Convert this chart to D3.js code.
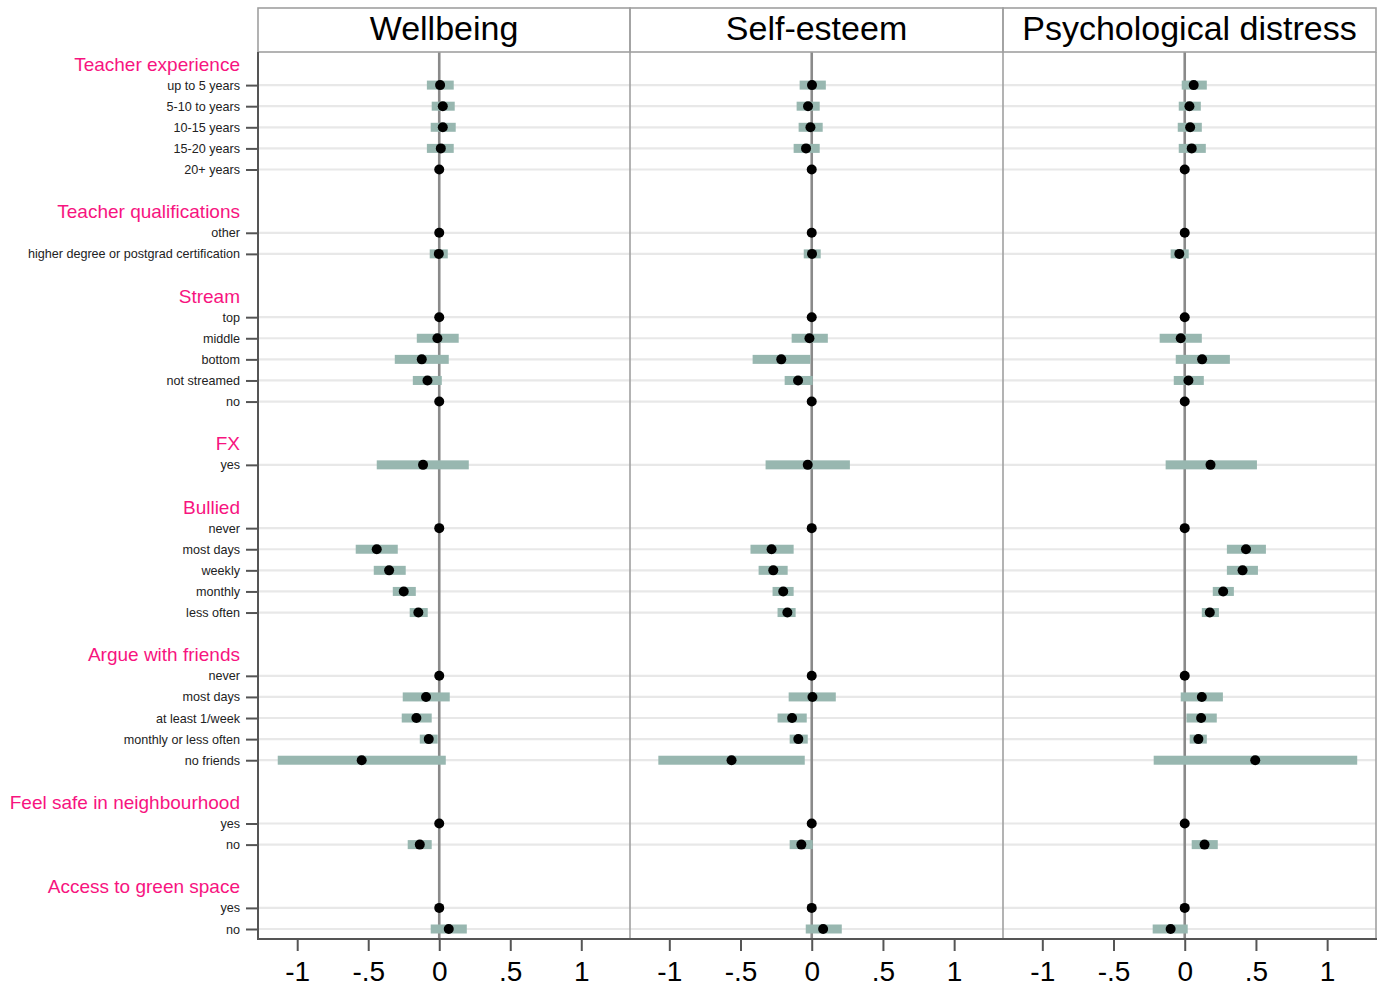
<!DOCTYPE html>
<html>
<head>
<meta charset="utf-8">
<script src="https://cdn.jsdelivr.net/npm/d3@7"></script>
<style>
  html, body { margin: 0; padding: 0; background: #fff; }
  svg { display: block; font-family: "Liberation Sans", Arial, Helvetica, sans-serif; }
</style>
</head>
<body>
<svg id="chart" width="1380" height="996"></svg>
<script>
// ---- data ----
const panelTitles = ["Wellbeing", "Self-esteem", "Psychological distress"];
const groupNames = ["Teacher experience", "Teacher qualifications", "Stream", "FX", "Bullied",
  "Argue with friends", "Feel safe in neighbourhood", "Access to green space"];
const groupSizes = [5, 2, 5, 1, 5, 5, 2, 2];
const rowLabels = [
  "up to 5 years", "5-10 to years", "10-15 years", "15-20 years", "20+ years",
  "other", "higher degree or postgrad certification",
  "top", "middle", "bottom", "not streamed", "no",
  "yes",
  "never", "most days", "weekly", "monthly", "less often",
  "never", "most days", "at least 1/week", "monthly or less often", "no friends",
  "yes", "no",
  "yes", "no"
];
const wellbeingEst = [0.006, 0.025, 0.025, 0.011, 0, 0, -0.003, 0, -0.013, -0.123, -0.083, 0, -0.114,
  0, -0.44, -0.353, -0.25, -0.147, 0, -0.093, -0.161, -0.074, -0.546, 0, -0.137, 0, 0.067];
const wellbeingLo = [-0.087, -0.053, -0.06, -0.087, null, null, -0.067, null, -0.158, -0.313, -0.186, null, -0.44,
  null, -0.588, -0.461, -0.327, -0.208, null, -0.257, -0.264, -0.137, -1.137, null, -0.222, null, -0.06];
const wellbeingHi = [0.102, 0.109, 0.116, 0.102, null, null, 0.06, null, 0.137, 0.067, 0.018, null, 0.208,
  null, -0.292, -0.236, -0.165, -0.081, null, 0.074, -0.053, -0.011, 0.046, null, -0.053, null, 0.194];

const selfEsteemEst = [0.002, -0.026, -0.009, -0.04, 0, 0, 0.002, 0, -0.016, -0.214, -0.096, 0, -0.028,
  0, -0.282, -0.27, -0.2, -0.171, 0, 0.005, -0.138, -0.094, -0.563, 0, -0.073, 0, 0.08];
const selfEsteemLo = [-0.085, -0.106, -0.092, -0.127, null, null, -0.056, null, -0.141, -0.415, -0.19, null, -0.324,
  null, -0.43, -0.373, -0.275, -0.24, null, -0.162, -0.24, -0.155, -1.077, null, -0.155, null, -0.042];
const selfEsteemHi = [0.099, 0.056, 0.077, 0.056, null, null, 0.063, null, 0.113, -0.009, 0.007, null, 0.268,
  null, -0.127, -0.169, -0.127, -0.113, null, 0.169, -0.035, -0.028, -0.049, null, 0.007, null, 0.211];

const distressEst = [0.063, 0.033, 0.038, 0.049, 0, 0, -0.038, 0, -0.028, 0.122, 0.026, 0, 0.181,
  0, 0.43, 0.406, 0.27, 0.176, 0, 0.12, 0.115, 0.096, 0.495, 0, 0.139, 0, -0.099];
const distressLo = [-0.021, -0.042, -0.049, -0.042, null, null, -0.099, null, -0.176, -0.063, -0.077, null, -0.134,
  null, 0.296, 0.296, 0.197, 0.12, null, -0.028, 0.012, 0.035, -0.218, null, 0.049, null, -0.225];
const distressHi = [0.155, 0.113, 0.12, 0.148, null, null, 0.028, null, 0.12, 0.317, 0.134, null, 0.507,
  null, 0.57, 0.514, 0.345, 0.24, null, 0.268, 0.225, 0.155, 1.211, null, 0.232, null, 0.021];

const xTickValues = [-1, -0.5, 0, 0.5, 1];
const xTickLabels = ["-1", "-.5", "0", ".5", "1"];

// ---- layout ----
const svg = d3.select("#chart");
const plotTop = 52, plotBottom = 939, headerTop = 8;
const panelEdges = [258, 630, 1003, 1376];
const labelRight = 240;
const pink = "#f7147f";
const barColor = "#98b7b0";

// slot positions: group label, items, blank
const groupSlot = [], rowSlot = [];
let s = 0;
groupSizes.forEach((n, gi) => {
  groupSlot.push(s); s++;
  for (let k = 0; k < n; k++) { rowSlot.push(s); s++; }
  s++;
});
const nSlots = s - 1; // last blank not used
const y = d3.scaleLinear().domain([0, nSlots - 1]).range([64, 929]);

const panels = [
  { est: wellbeingEst, lo: wellbeingLo, hi: wellbeingHi },
  { est: selfEsteemEst, lo: selfEsteemLo, hi: selfEsteemHi },
  { est: distressEst, lo: distressLo, hi: distressHi }
];

// gridlines across all panels
svg.append("g").selectAll("line").data(rowSlot).join("line")
  .attr("x1", panelEdges[0]).attr("x2", panelEdges[3])
  .attr("y1", d => y(d)).attr("y2", d => y(d))
  .attr("stroke", "#e8e8e8").attr("stroke-width", 2.2);

panels.forEach((p, pi) => {
  const x0 = panelEdges[pi], x1 = panelEdges[pi + 1];
  const x = d3.scaleLinear().domain([-1.276, 1.343]).range([x0, x1]);
  const g = svg.append("g");

  // zero line
  g.append("line").attr("x1", x(0)).attr("x2", x(0))
    .attr("y1", plotTop).attr("y2", plotBottom)
    .attr("stroke", "#8a8a8a").attr("stroke-width", 2.6);

  // CI bars
  const idx = d3.range(rowLabels.length).filter(i => p.lo[i] !== null);
  g.selectAll("rect.ci").data(idx).join("rect").attr("class", "ci")
    .attr("x", i => x(p.lo[i])).attr("width", i => x(p.hi[i]) - x(p.lo[i]))
    .attr("y", i => y(rowSlot[i]) - 4.5).attr("height", 9)
    .attr("fill", barColor);

  // points
  g.selectAll("circle").data(d3.range(rowLabels.length)).join("circle")
    .attr("cx", i => x(p.est[i])).attr("cy", i => y(rowSlot[i]))
    .attr("r", 5).attr("fill", "#000");

  // header box
  g.append("rect").attr("x", x0).attr("y", headerTop)
    .attr("width", x1 - x0).attr("height", plotTop - headerTop)
    .attr("fill", "none").attr("stroke", "#a0a0a0").attr("stroke-width", 1.6);
  g.append("text").attr("x", (x0 + x1) / 2).attr("y", 40)
    .attr("text-anchor", "middle").attr("font-size", 34).attr("fill", "#000")
    .text(panelTitles[pi]);

  // panel right border
  g.append("line").attr("x1", x1).attr("x2", x1)
    .attr("y1", plotTop).attr("y2", plotBottom)
    .attr("stroke", "#a0a0a0").attr("stroke-width", 1.6);

  // bottom axis
  const ax = g.append("g").attr("transform", `translate(0,${plotBottom})`)
    .call(d3.axisBottom(x).tickValues(xTickValues).tickSize(12).tickPadding(10)
      .tickFormat((d, i) => xTickLabels[i]));
  ax.select(".domain").remove();
  ax.selectAll(".tick line").attr("stroke", "#555").attr("stroke-width", 2);
  ax.selectAll(".tick text").attr("font-size", 28).attr("fill", "#000")
    .attr("font-family", "'Liberation Sans', Arial, sans-serif");
});

// bottom axis baseline
svg.append("line").attr("x1", panelEdges[0] - 1).attr("x2", panelEdges[3] + 1)
  .attr("y1", plotBottom).attr("y2", plotBottom)
  .attr("stroke", "#555").attr("stroke-width", 2);

// left axis with row labels
const yAxis = svg.append("g").attr("transform", `translate(${panelEdges[0]},0)`)
  .call(d3.axisLeft(y).tickValues(rowSlot).tickSize(12).tickPadding(6)
    .tickFormat((d, i) => rowLabels[i]));
yAxis.select(".domain").remove();
yAxis.selectAll(".tick line").attr("stroke", "#555").attr("stroke-width", 2);
yAxis.selectAll(".tick text").attr("font-size", 12.6).attr("fill", "#222")
  .attr("font-family", "'Liberation Sans', Arial, sans-serif");
svg.append("line").attr("x1", panelEdges[0]).attr("x2", panelEdges[0])
  .attr("y1", plotTop).attr("y2", plotBottom + 1)
  .attr("stroke", "#555").attr("stroke-width", 2);

// group labels
svg.append("g").selectAll("text").data(groupNames).join("text")
  .attr("x", labelRight).attr("y", (d, i) => y(groupSlot[i]))
  .attr("dy", "0.35em").attr("text-anchor", "end")
  .attr("font-size", 19).attr("fill", pink)
  .text(d => d);
</script>
</body>
</html>
